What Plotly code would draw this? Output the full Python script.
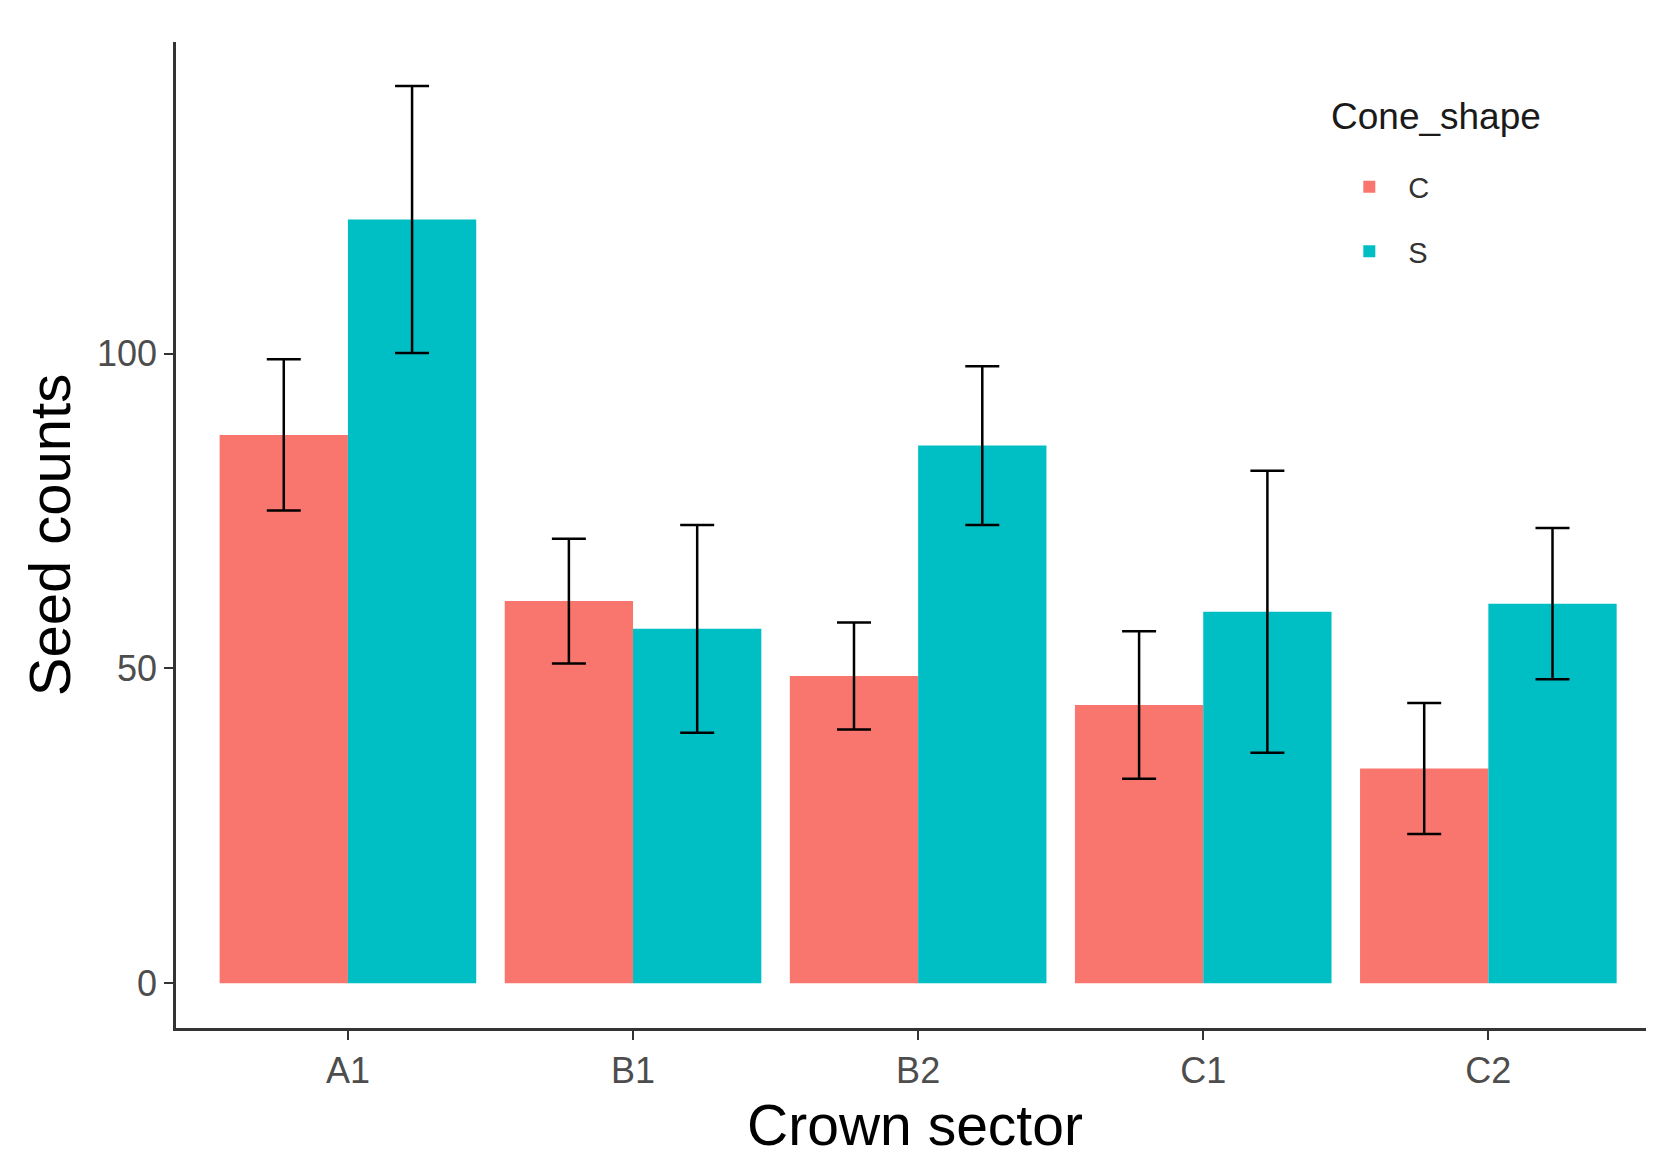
import plotly.graph_objects as go

sectors = ["A1", "B1", "B2", "C1", "C2"]
shapes = ["C", "S"]
mean_C = [87.1, 60.7, 48.8, 44.2, 34.1]
err_C = [12.0, 9.9, 8.5, 11.7, 10.4]
mean_S = [121.3, 56.3, 85.4, 59.0, 60.3]
err_S = [21.2, 16.5, 12.6, 22.4, 12.0]
colors = ["#F8766D", "#00BFC4"]
y_ticks = [0, 50, 100]
legend_title = "Cone_shape"

FONT = "Liberation Sans, Arial, sans-serif"

fig = go.Figure()
for name, vals, errs, col in zip(shapes, [mean_C, mean_S], [err_C, err_S], colors):
    fig.add_trace(go.Bar(
        x=sectors, y=vals, name=name, legendgroup=name,
        marker=dict(color=col, line=dict(width=0)),
        error_y=dict(type="data", array=errs, visible=True,
                     color="black", thickness=2.5, width=17),
    ))

# page body adds an 8px offset; margins compensate for it
fig.update_layout(
    width=1654, height=1158,
    barmode="group", bargap=0.1, bargroupgap=0,
    plot_bgcolor="white", paper_bgcolor="white",
    margin=dict(l=168, r=8, t=34, b=138),
    font=dict(family=FONT, color="black"),
    legend=dict(
        font=dict(size=29, color="#333333"),
        x=0.781, y=0.879, xanchor="left", yanchor="top",
        bgcolor="rgba(0,0,0,0)", tracegroupgap=24, itemwidth=68,
    ),
    showlegend=True,
    annotations=[dict(
        text=legend_title, xref="paper", yref="paper",
        x=0.780, y=0.924, xanchor="left", yanchor="middle",
        showarrow=False, font=dict(size=37, color="#1a1a1a"),
    )],
)
fig.update_xaxes(
    title=dict(text="Crown sector", font=dict(size=57, color="black"), standoff=16),
    range=[-0.603, 4.581],
    showline=True, linecolor="#333333", linewidth=2.5,
    ticks="outside", ticklen=9, tickwidth=2, tickcolor="#333333",
    tickfont=dict(size=36, color="#4D4D4D"),
    showgrid=False, zeroline=False,
)
fig.update_yaxes(
    title=dict(text="Seed counts", font=dict(size=58, color="black"), standoff=8),
    range=[-7.1, 149.5], tickvals=y_ticks,
    showline=True, linecolor="#333333", linewidth=2.5,
    ticks="outside", ticklen=9, tickwidth=2, tickcolor="#333333",
    tickfont=dict(size=36, color="#4D4D4D"),
    showgrid=False, zeroline=False,
)

fig.write_html("out.html")
